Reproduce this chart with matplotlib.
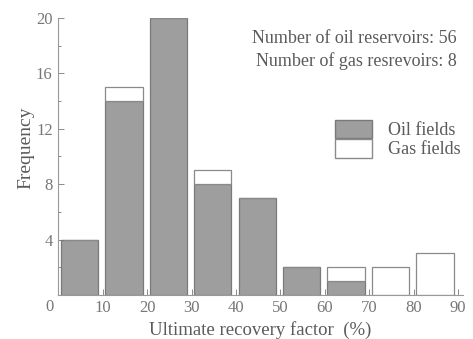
import matplotlib
matplotlib.use("Agg")
import matplotlib.pyplot as plt
from matplotlib.patches import Patch
import numpy as np

# recovery factor bins (%), left edges
bins = [0, 10, 20, 30, 40, 50, 60, 70, 80]
oil = [4, 14, 20, 8, 7, 2, 1, 0, 0]
gas = [0, 1, 0, 1, 0, 0, 1, 2, 3]

ink = "#5a5a5a"
plt.rcParams["font.family"] = ["Liberation Serif", "DejaVu Serif"]
plt.rcParams["text.color"] = ink
plt.rcParams["axes.labelcolor"] = ink
plt.rcParams["xtick.color"] = "#777777"
plt.rcParams["ytick.color"] = "#777777"

fig = plt.figure(figsize=(4.73, 3.39), dpi=100)
ax = fig.add_axes([0.123, 0.13, 0.855, 0.817])

x = np.array(bins) + 0.6
ax.bar(x, oil, width=8.4, align="edge", color="#9e9e9e",
       edgecolor="#7a7a7a", linewidth=0.9)
ax.bar(x, gas, width=8.4, align="edge", bottom=oil, color="white",
       edgecolor="#8a8a8a", linewidth=0.9)

ax.set_xlim(0, 91)
ax.set_ylim(0, 20)
ax.set_xticks(range(0, 100, 10))
ax.set_xticklabels([""] + [str(v) for v in range(10, 100, 10)])
ax.set_yticks([0, 4, 8, 12, 16, 20])
ax.set_yticklabels(["", "4", "8", "12", "16", "20"])
ax.set_yticks(range(2, 20, 4), minor=True)
ax.tick_params(direction="in", labelsize=12, length=4, width=0.6)
ax.tick_params(which="minor", direction="in", length=2.5, width=0.6)
ax.tick_params(axis="x", pad=4)
ax.tick_params(axis="y", pad=4)
# shared origin label
ax.annotate("0", xy=(0, 0), xytext=(-6, -3), textcoords="offset points",
            ha="center", va="top", fontsize=12, color="#777777")

for s in ["top", "right"]:
    ax.spines[s].set_visible(False)
for s in ["left", "bottom"]:
    ax.spines[s].set_color("#999999")
    ax.spines[s].set_linewidth(0.8)

ax.set_xlabel("Ultimate recovery factor  (%)", fontsize=13.5, labelpad=3)
ax.set_ylabel("Frequency", fontsize=14)
ax.yaxis.set_label_coords(-0.058, 0.53)

ax.text(0.985, 0.885, "Number of oil reservoirs: 56\nNumber of gas resrevoirs: 8",
        transform=ax.transAxes, ha="right", va="center", fontsize=13,
        linespacing=1.4)

handles = [Patch(facecolor="#9e9e9e", edgecolor="#7a7a7a", label="Oil fields"),
           Patch(facecolor="white", edgecolor="#8a8a8a", label="Gas fields")]
ax.legend(handles=handles, loc="upper right", bbox_to_anchor=(1.017, 0.665),
          frameon=False, fontsize=13, handlelength=2.1, handleheight=1.2,
          handletextpad=0.85, labelspacing=0.0, borderpad=0)

fig.savefig("out.png", dpi=100)
